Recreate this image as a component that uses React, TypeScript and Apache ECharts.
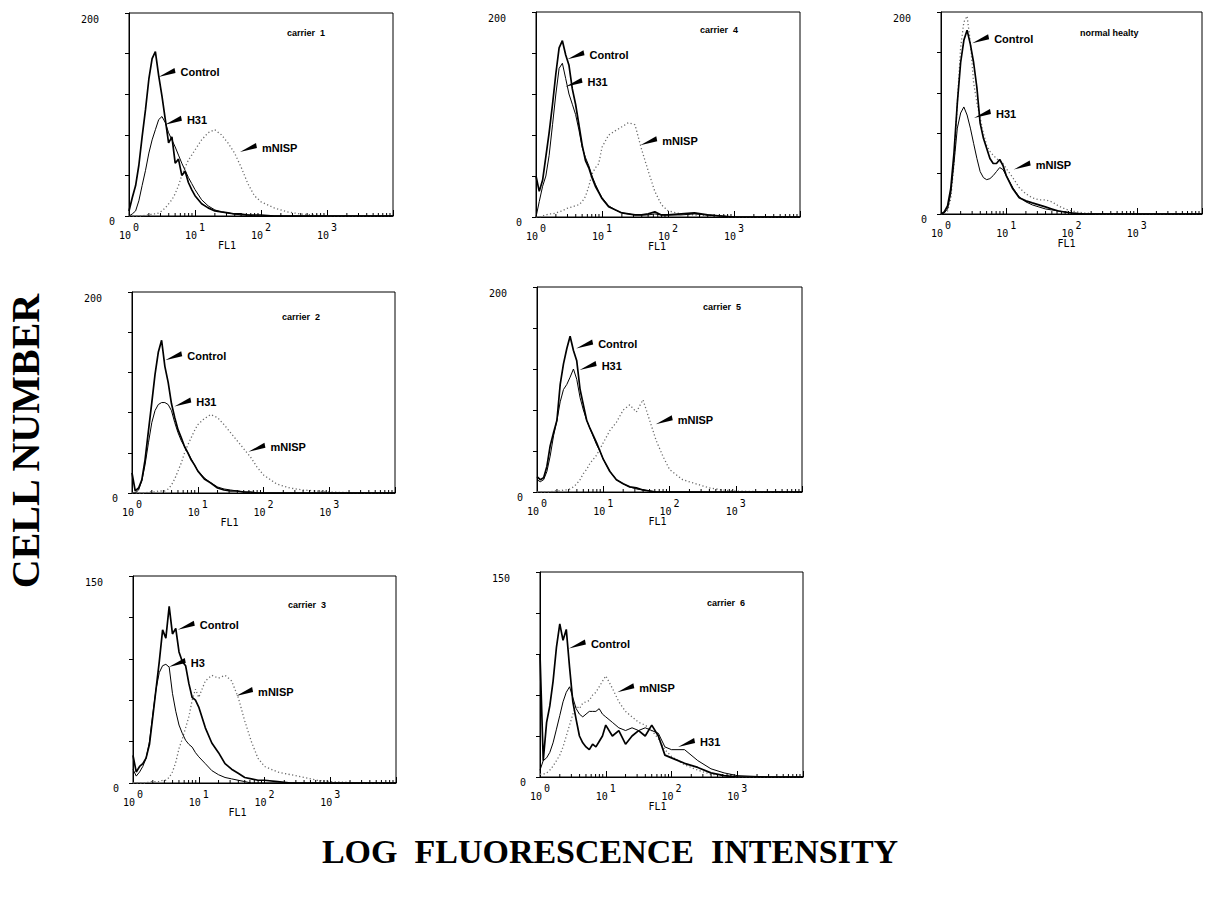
import React, { useEffect, useRef } from "react";
import * as echarts from "echarts";

// FL1 channel values (log-spaced sampling of the histogram)
const FL1 = [1, 1.12, 1.26, 1.41, 1.58, 1.78, 2, 2.24, 2.51, 2.82, 3.16, 3.55, 3.98, 4.47, 5.01, 5.62, 6.31, 7.08, 7.94, 8.91, 10, 12.6, 15.8, 20, 25.1, 31.6, 39.8, 50.1, 63.1, 79.4, 100, 158, 251, 398, 631, 1000, 3162, 10000];

const MINOR_TICKS = [2, 3, 4, 5, 6, 7, 8, 9, 20, 30, 40, 50, 60, 70, 80, 90, 200, 300, 400, 500, 600, 700, 800, 900, 2000, 3000, 4000, 5000, 6000, 7000, 8000, 9000];
const X_TICK_VALUES = [1, 10, 100, 1000];
const X_TICK_EXPONENTS = ["0", "1", "2", "3"];

const PANEL_TITLES = ["carrier  1", "carrier  4", "normal healty", "carrier  2", "carrier  5", "carrier  3", "carrier  6"];
const Y_MAX = [200, 200, 200, 200, 200, 150, 150];
const CONTROL_LABELS = ["Control", "Control", "Control", "Control", "Control", "Control", "Control"];
const H31_LABELS = ["H31", "H31", "H31", "H31", "H31", "H3", "H31"];
const MNISP_LABELS = ["mNISP", "mNISP", "mNISP", "mNISP", "mNISP", "mNISP", "mNISP"];

// carrier 1
const C1_CONTROL = [5, 18, 30, 50, 78, 105, 135, 155, 162, 138, 118, 95, 72, 78, 52, 56, 40, 44, 33, 26, 20, 12, 8, 5, 4, 3, 2, 2, 1, 1, 1, 0, 0, 0, 0, 0, 0, 0];
const C1_H31 = [0, 2, 5, 15, 30, 45, 62, 75, 85, 95, 98, 92, 82, 75, 68, 60, 52, 45, 38, 32, 26, 16, 10, 6, 4, 3, 2, 1, 1, 0, 0, 0, 0, 0, 0, 0, 0, 0];
const C1_MNISP = [0, 0, 0, 0, 0, 1, 1, 2, 2, 3, 5, 8, 12, 16, 22, 30, 40, 48, 55, 60, 65, 75, 82, 85, 80, 72, 62, 48, 32, 20, 14, 8, 4, 2, 1, 0, 0, 0];
// carrier 4
const C4_CONTROL = [40, 25, 36, 59, 82, 110, 140, 165, 172, 158, 148, 125, 110, 90, 70, 55, 48, 38, 30, 24, 18, 10, 7, 4, 3, 2, 2, 3, 5, 2, 2, 3, 4, 2, 1, 0, 0, 0];
const C4_H31 = [0, 15, 30, 40, 60, 90, 120, 145, 150, 135, 120, 110, 100, 85, 68, 58, 50, 40, 32, 25, 19, 11, 7, 4, 3, 2, 2, 2, 3, 2, 2, 2, 3, 2, 1, 0, 0, 0];
const C4_MNISP = [0, 0, 1, 2, 3, 3, 4, 5, 6, 8, 9, 10, 11, 12, 15, 20, 30, 42, 48, 52, 68, 80, 84, 88, 92, 90, 66, 45, 25, 12, 6, 3, 2, 1, 1, 0, 0, 0];
// normal healthy
const NH_CONTROL = [0, 2, 8, 25, 60, 110, 150, 172, 182, 168, 150, 125, 90, 75, 65, 55, 50, 50, 54, 48, 38, 25, 16, 13, 11, 9, 7, 5, 3, 2, 1, 0, 0, 0, 0, 0, 0, 0];
const NH_H31 = [0, 1, 5, 20, 50, 85, 100, 106, 98, 85, 70, 55, 42, 36, 34, 35, 38, 42, 46, 44, 38, 26, 17, 12, 9, 7, 5, 4, 3, 2, 1, 0, 0, 0, 0, 0, 0, 0];
const NH_MNISP = [0, 0, 3, 15, 50, 110, 165, 190, 196, 170, 130, 110, 95, 80, 68, 62, 58, 55, 52, 50, 45, 36, 26, 20, 16, 14, 14, 12, 8, 5, 3, 1, 0, 0, 0, 0, 0, 0];
// carrier 2
const C2_CONTROL = [20, 2, 5, 13, 33, 62, 90, 118, 140, 152, 126, 110, 89, 75, 63, 55, 46, 40, 33, 28, 22, 14, 10, 5, 3, 2, 2, 1, 1, 0, 0, 0, 0, 0, 0, 0, 0, 0];
const C2_H31 = [0, 0, 3, 12, 28, 50, 70, 82, 88, 90, 90, 88, 82, 70, 60, 52, 46, 40, 34, 28, 22, 15, 10, 6, 4, 3, 2, 1, 0, 0, 0, 0, 0, 0, 0, 0, 0, 0];
const C2_MNISP = [0, 0, 0, 0, 0, 1, 1, 1, 2, 2, 2, 4, 8, 14, 22, 30, 40, 48, 55, 62, 68, 74, 78, 75, 68, 60, 52, 44, 36, 26, 18, 9, 5, 3, 2, 1, 0, 0];
// carrier 5
const C5_CONTROL = [15, 12, 14, 25, 45, 58, 70, 105, 125, 140, 152, 138, 128, 100, 85, 70, 62, 55, 48, 40, 32, 20, 12, 8, 5, 4, 2, 1, 0, 0, 0, 0, 0, 0, 0, 0, 0, 0];
const C5_H31 = [12, 10, 12, 20, 35, 55, 70, 88, 100, 105, 112, 120, 110, 92, 80, 70, 62, 54, 46, 40, 32, 20, 12, 8, 5, 3, 2, 1, 0, 0, 0, 0, 0, 0, 0, 0, 0, 0];
const C5_MNISP = [0, 0, 0, 0, 0, 1, 1, 1, 2, 2, 3, 5, 8, 12, 18, 22, 28, 32, 36, 42, 48, 60, 68, 80, 85, 78, 90, 70, 50, 35, 22, 12, 8, 4, 2, 1, 0, 0];
// carrier 3
const C3_CONTROL = [20, 8, 12, 14, 18, 28, 48, 68, 88, 111, 105, 128, 108, 112, 95, 88, 85, 72, 62, 60, 55, 40, 29, 22, 14, 10, 7, 4, 3, 2, 2, 1, 0, 0, 0, 0, 0, 0];
const C3_H31 = [10, 5, 8, 12, 18, 30, 50, 68, 80, 85, 86, 84, 65, 52, 42, 36, 31, 28, 26, 22, 19, 14, 9, 6, 4, 3, 2, 1, 0, 0, 0, 0, 0, 0, 0, 0, 0, 0];
const C3_MNISP = [0, 0, 0, 0, 0, 1, 1, 1, 1, 2, 2, 4, 8, 15, 25, 32, 40, 48, 60, 68, 62, 74, 78, 76, 78, 74, 62, 45, 30, 18, 12, 8, 6, 4, 2, 1, 0, 0];
// carrier 6
const C6_CONTROL = [90, 12, 40, 52, 70, 95, 112, 100, 108, 80, 55, 42, 30, 25, 22, 20, 24, 22, 26, 30, 38, 30, 34, 24, 30, 34, 30, 38, 30, 16, 14, 10, 7, 3, 1, 0, 0, 0];
const C6_H31 = [5, 12, 14, 18, 25, 35, 45, 55, 62, 66, 58, 50, 46, 44, 46, 48, 48, 48, 50, 46, 44, 40, 36, 34, 36, 34, 36, 34, 32, 22, 20, 20, 12, 6, 3, 1, 0, 0];
const C6_MNISP = [2, 2, 3, 5, 8, 12, 16, 22, 30, 38, 46, 52, 50, 54, 55, 56, 60, 62, 66, 70, 74, 65, 55, 48, 44, 40, 38, 34, 28, 20, 15, 9, 5, 2, 1, 0, 0, 0];

const CONTROL = [C1_CONTROL, C4_CONTROL, NH_CONTROL, C2_CONTROL, C5_CONTROL, C3_CONTROL, C6_CONTROL];
const H31 = [C1_H31, C4_H31, NH_H31, C2_H31, C5_H31, C3_H31, C6_H31];
const MNISP = [C1_MNISP, C4_MNISP, NH_MNISP, C2_MNISP, C5_MNISP, C3_MNISP, C6_MNISP];

// arrow tips [FL1, cell number]
const ARROW_CONTROL = [[2.8, 137], [3.0, 154], [3.0, 169], [3.2, 132], [3.9, 140], [4.8, 111], [2.75, 94]];
const ARROW_H31 = [[3.5, 90], [2.8, 127], [3.2, 95], [4.4, 86], [4.4, 119], [3.5, 84], [126, 22]];
const ARROW_MNISP = [[48, 63], [38, 70], [13, 44], [59, 41], [62, 66], [37, 63], [15, 62]];

// layout (pixels): [left, top, right, bottom]
const BOXES = [
  [129, 13, 393, 216],
  [536, 12, 800, 217],
  [941, 12, 1203, 214],
  [132, 292, 395, 493],
  [537, 287, 802, 492],
  [133, 576, 396, 783],
  [540, 572, 803, 777],
];
const TITLE_POS = [[287, 28], [700, 25], [1080, 28], [282, 312], [703, 302], [288, 600], [707, 598]];
const FL1_SHIFT = [34, 11, 5, 34, 12, 27, 14];

const MONO = "'DejaVu Sans Mono', monospace";
const ARROW_PATH = "path://M0,9 L16,0 L17,5 Z";

function arrowMark(coord: number[], text: string) {
  return {
    silent: true,
    symbol: ARROW_PATH,
    symbolSize: [17, 9],
    symbolOffset: [8.5, -4.5],
    itemStyle: { color: "#000" },
    label: {
      show: true,
      position: "right",
      distance: 5,
      formatter: text,
      color: "#000",
      fontFamily: "'Liberation Sans', Arial, sans-serif",
      fontWeight: "bold",
      fontSize: 11,
    },
    data: [{ coord }],
  };
}

function buildOption() {
  const grid = BOXES.map(([l, t, r, b]) => ({
    left: l,
    top: t,
    width: r - l,
    height: b - t,
    show: true,
    borderColor: "#000",
    borderWidth: 1,
    backgroundColor: "transparent",
  }));
  const xAxis = BOXES.map((_, i) => ({
    type: "log",
    logBase: 10,
    min: 1,
    max: 10000,
    splitNumber: 4,
    gridIndex: i,
    axisLine: { show: true, lineStyle: { color: "#000", width: 1 } },
    axisTick: { show: true, inside: true, length: 6, lineStyle: { color: "#000" } },
    splitLine: { show: false },
    axisLabel: {
      margin: 6,
      color: "#000",
      formatter: (v: number) => {
        const k = X_TICK_VALUES.indexOf(Math.round(v));
        return k >= 0 ? `{b|10}{s|${X_TICK_EXPONENTS[k]}}` : "";
      },
      rich: {
        b: { fontFamily: MONO, fontSize: 10, lineHeight: 18, verticalAlign: "bottom", color: "#000" },
        s: { fontFamily: MONO, fontSize: 10, lineHeight: 10, verticalAlign: "top", color: "#000", padding: [0, 0, 0, 2] },
      },
    },
    name: "FL1",
    nameLocation: "middle",
    nameGap: 24,
    nameTextStyle: { fontFamily: MONO, fontSize: 10, color: "#000", padding: [0, FL1_SHIFT[i] * 2, 0, 0] },
  }));
  const yAxis = BOXES.map((_, i) => ({
    type: "value",
    gridIndex: i,
    min: 0,
    max: Y_MAX[i],
    interval: Y_MAX[i] / 5,
    axisLine: { show: true, lineStyle: { color: "#000", width: 1 } },
    axisTick: { show: true, inside: false, length: 4, lineStyle: { color: "#000" } },
    splitLine: { show: false },
    axisLabel: {
      margin: 6,
      color: "#000",
      formatter: (v: number) => (v === Y_MAX[i] ? `{t|${v}}` : v === 0 ? "{z|0}" : ""),
      rich: {
        t: { fontFamily: MONO, fontSize: 10, color: "#000", padding: [12, 24, 0, 0] },
        z: { fontFamily: MONO, fontSize: 10, color: "#000", padding: [10, 8, 0, 0] },
      },
    },
  }));

  const series: any[] = [];
  BOXES.forEach((_, i) => {
    series.push({
      type: "line",
      name: "mNISP",
      xAxisIndex: i,
      yAxisIndex: i,
      data: FL1.map((x, j) => [x, MNISP[i][j]]),
      showSymbol: false,
      symbol: "none",
      lineStyle: { color: "#6a6a6a", width: 1.3, type: [1.2, 2.4] },
      z: 2,
      markPoint: arrowMark(ARROW_MNISP[i], MNISP_LABELS[i]),
    });
    series.push({
      type: "line",
      name: "H31",
      xAxisIndex: i,
      yAxisIndex: i,
      data: FL1.map((x, j) => [x, H31[i][j]]),
      showSymbol: false,
      symbol: "none",
      lineStyle: { color: "#000", width: 1 },
      z: 3,
      markPoint: arrowMark(ARROW_H31[i], H31_LABELS[i]),
    });
    series.push({
      type: "line",
      name: "Control",
      xAxisIndex: i,
      yAxisIndex: i,
      data: FL1.map((x, j) => [x, CONTROL[i][j]]),
      showSymbol: false,
      symbol: "none",
      lineStyle: { color: "#000", width: 1.7 },
      z: 4,
      markPoint: arrowMark(ARROW_CONTROL[i], CONTROL_LABELS[i]),
    });
    series.push({
      type: "custom",
      xAxisIndex: i,
      yAxisIndex: i,
      silent: true,
      data: MINOR_TICKS.map((v) => [v, 0]),
      encode: { x: 0, y: 1 },
      renderItem: (_p: any, api: any) => {
        const p = api.coord([api.value(0), 0]);
        return {
          type: "line",
          shape: { x1: p[0], y1: p[1], x2: p[0], y2: p[1] - 3 },
          style: { stroke: "#000", lineWidth: 1 },
        };
      },
      z: 5,
    });
  });

  const title = PANEL_TITLES.map((t, i) => ({
    text: t,
    left: TITLE_POS[i][0],
    top: TITLE_POS[i][1],
    padding: 0,
    textStyle: {
      fontFamily: "'Liberation Sans Narrow', 'Liberation Sans', Arial, sans-serif",
      fontWeight: "bold",
      fontSize: 9,
      color: "#000",
    },
  }));

  return {
    animation: false,
    backgroundColor: "#fff",
    textStyle: { fontFamily: MONO },
    title,
    grid,
    xAxis,
    yAxis,
    series,
    graphic: [
      {
        type: "text",
        x: 25,
        y: 441,
        rotation: Math.PI / 2,
        style: {
          text: "CELL NUMBER",
          font: "bold 40px 'Liberation Serif', serif",
          fill: "#000",
          align: "center",
          verticalAlign: "middle",
          textAlign: "center",
          textVerticalAlign: "middle",
        },
      },
      {
        type: "text",
        x: 610,
        y: 851,
        style: {
          text: "LOG  FLUORESCENCE  INTENSITY",
          font: "bold 34px 'Liberation Serif', serif",
          fill: "#000",
          align: "center",
          verticalAlign: "middle",
          textAlign: "center",
          textVerticalAlign: "middle",
        },
      },
    ],
  };
}

export default function App() {
  const ref = useRef<HTMLDivElement>(null);
  useEffect(() => {
    if (!ref.current) return;
    const chart = echarts.init(ref.current, null, { renderer: "svg" });
    chart.setOption(buildOption() as any);
    return () => chart.dispose();
  }, []);
  return (
    <div
      ref={ref}
      style={{ position: "absolute", left: 0, top: 0, width: 1205, height: 901, background: "#fff" }}
    />
  );
}
